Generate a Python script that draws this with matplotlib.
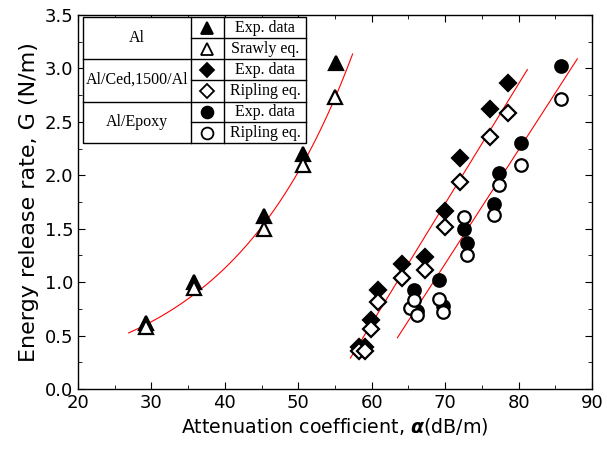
import numpy as np
import matplotlib.pyplot as plt
from matplotlib.ticker import MultipleLocator, FormatStrFormatter

# Al
al_x = [29.3, 35.8, 45.3, 50.6, 55.2]
al_exp = [0.62, 1.00, 1.62, 2.20, 3.05]
al_srawly_x = [29.3, 35.8, 45.3, 50.6, 55.0]
al_srawly = [0.58, 0.95, 1.50, 2.10, 2.73]

# Al/Ced,1500/Al
ced_x = [58.2, 59.1, 59.9, 60.8, 64.1, 67.3, 70.0, 72.0, 76.1, 78.5]
ced_exp = [0.39, 0.39, 0.65, 0.93, 1.17, 1.24, 1.67, 2.16, 2.62, 2.86]
ced_rip = [0.36, 0.36, 0.56, 0.81, 1.04, 1.11, 1.52, 1.94, 2.36, 2.58]

# Al/Epoxy
epo_x = [65.8, 66.2, 69.2, 69.7, 72.5, 73.0, 76.6, 77.3, 80.35, 85.8]
epo_exp = [0.93, 0.73, 1.02, 0.78, 1.50, 1.37, 1.73, 2.02, 2.30, 3.02]
epo_rip_x = [65.2, 65.8, 66.2, 69.2, 69.7, 72.5, 73.0, 76.6, 77.3, 80.35, 85.8]
epo_rip = [0.76, 0.83, 0.69, 0.84, 0.72, 1.61, 1.25, 1.63, 1.91, 2.10, 2.71]

# fitted lines
ced_fit_x = [57.1, 81.2]
ced_fit_y = [0.29, 2.99]
epo_fit_x = [63.5, 88.0]
epo_fit_y = [0.48, 3.09]
al_fit_range = [26.9, 57.4]

fig = plt.figure(figsize=(6.07, 4.55), dpi=100)
ax = fig.add_axes([0.1285, 0.145, 0.8468, 0.822])

# exponential fit for the Al curve
b, a = np.polyfit(al_srawly_x, np.log(al_srawly), 1)
xc = np.linspace(al_fit_range[0], al_fit_range[1], 100)
ax.plot(xc, np.exp(a + b * xc), color='red', lw=0.8)
ax.plot(ced_fit_x, ced_fit_y, color='red', lw=0.8)
ax.plot(epo_fit_x, epo_fit_y, color='red', lw=0.8)

kw = dict(ls='none', mec='black', mew=1.6)
ax.plot(al_x, al_exp, marker='^', ms=10, mfc='black', **kw)
ax.plot(al_srawly_x, al_srawly, marker='^', ms=10, mfc='white', **kw)
ax.plot(ced_x, ced_exp, marker='D', ms=8.5, mfc='black', **kw)
ax.plot(ced_x, ced_rip, marker='D', ms=8.5, mfc='white', **kw)
ax.plot(epo_x, epo_exp, marker='o', ms=9, mfc='black', **kw)
ax.plot(epo_rip_x, epo_rip, marker='o', ms=9, mfc='white', **kw)

ax.set_xlim(20, 90)
ax.set_ylim(0, 3.5)
ax.xaxis.set_major_locator(MultipleLocator(10))
ax.xaxis.set_minor_locator(MultipleLocator(5))
ax.yaxis.set_major_locator(MultipleLocator(0.5))
ax.yaxis.set_minor_locator(MultipleLocator(0.25))
ax.yaxis.set_major_formatter(FormatStrFormatter('%.1f'))
ax.tick_params(which='both', direction='in', top=True, right=True, labelsize=13)
ax.tick_params(which='major', length=5)
ax.tick_params(which='minor', length=3)
for s in ax.spines.values():
    s.set_linewidth(1.0)

ax.set_xlabel(r'Attenuation coefficient, $\boldsymbol{\alpha}$(dB/m)', fontsize=13.7, labelpad=3)
ax.set_ylabel('Energy release rate, G (N/m)', fontsize=16, labelpad=4)

# legend table
tx = [0.0097, 0.2198, 0.284, 0.4436]
ty = [0.9955, 0.9377, 0.8815, 0.8262, 0.7682, 0.7131, 0.6586]
T = ax.transAxes
ax.add_patch(plt.Rectangle((tx[0], ty[-1]), tx[3] - tx[0], ty[0] - ty[-1],
                           transform=T, fc='white', ec='black', lw=1.0, zorder=5))
ax.plot([tx[1], tx[1]], [ty[0], ty[-1]], transform=T, color='black', lw=1.0, zorder=6)
ax.plot([tx[2], tx[2]], [ty[0], ty[-1]], transform=T, color='black', lw=1.0, zorder=6)
for i in (2, 4):
    ax.plot([tx[0], tx[3]], [ty[i], ty[i]], transform=T, color='black', lw=1.0, zorder=6)
for i in (1, 3, 5):
    ax.plot([tx[1], tx[3]], [ty[i], ty[i]], transform=T, color='black', lw=1.0, zorder=6)

groups = ['Al', 'Al/Ced,1500/Al', 'Al/Epoxy']
entries = ['Exp. data', 'Srawly eq.', 'Exp. data', 'Ripling eq.', 'Exp. data', 'Ripling eq.']
marks = [('^', 'black', 9), ('^', 'white', 9), ('D', 'black', 7.5),
         ('D', 'white', 7.5), ('o', 'black', 8.5), ('o', 'white', 8.5)]
for g, name in enumerate(groups):
    ax.text((tx[0] + tx[1]) / 2, ty[2 * g + 1], name, transform=T, ha='center', va='center',
            fontsize=11.5, family='Liberation Serif', zorder=7)
for r, (lab, (m, fc, ms)) in enumerate(zip(entries, marks)):
    yc = (ty[r] + ty[r + 1]) / 2
    ax.plot([(tx[1] + tx[2]) / 2], [yc], transform=T, marker=m, ms=ms, mfc=fc,
            mec='black', mew=1.3, ls='none', zorder=7, clip_on=False)
    ax.text((tx[2] + tx[3]) / 2, yc, lab, transform=T, ha='center', va='center',
            fontsize=11.5, family='Liberation Serif', zorder=7)

fig.savefig('out.png', dpi=100)
